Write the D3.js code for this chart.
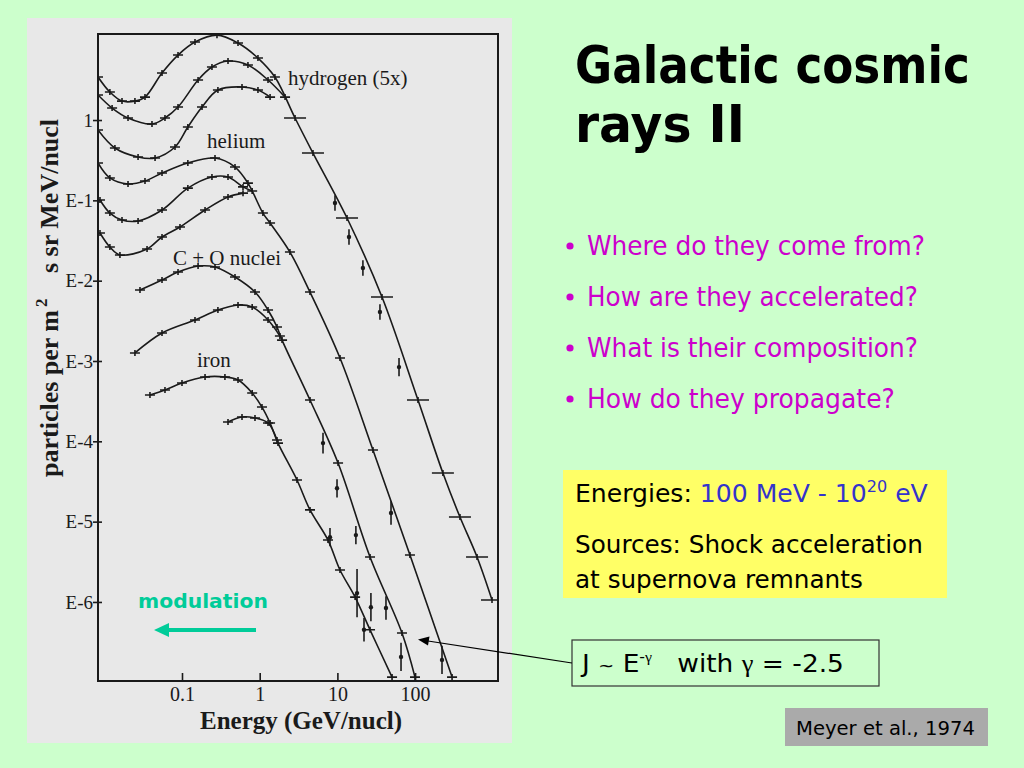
<!DOCTYPE html>
<html lang="en">
<head>
<meta charset="utf-8">
<title>Galactic cosmic rays II</title>
<script src="https://d3js.org/d3.v7.min.js"></script>
<style>
  body { margin: 0; background: #ccffcc; }
  svg { display: block; }
  .serif { font-family: "Liberation Serif", "DejaVu Serif", serif; }
  .sans { font-family: "DejaVu Sans", Verdana, sans-serif; }
</style>
</head>
<body>
<script>
// spectra: [energy GeV/nucl, flux]
var hydrogen1 = [[0.0083,3.43],[0.0118,2.23],[0.0169,1.72],[0.0248,1.72],[0.0334,1.93],[0.0553,3.85],[0.0889,6.44],[0.147,9.35],[0.282,11.4],[0.526,9.09],[0.95,5.91],[1.57,3.43],[2.85,1.06],[4.85,0.388],[13.3,0.0603],[37.5,0.00626],[109,3.27e-4],[228,4.03e-5],[378,1.14e-5],[627,3.63e-6],[977,1.06e-6]];
var hydrogen2 = [[0.0083,2.05],[0.0126,1.41],[0.0202,1.06],[0.0411,0.892],[0.0604,1.06],[0.0889,1.45],[0.161,3.15],[0.243,4.57],[0.391,5.42],[0.706,4.84],[1.28,3.15],[2.12,1.93]];
var hydrogen3 = [[0.0083,0.751],[0.0137,0.448],[0.0272,0.346],[0.045,0.336],[0.0813,0.461],[0.119,0.818],[0.181,1.45],[0.29,2.36],[0.592,2.58],[0.95,2.36],[1.36,1.93]];
var helium1 = [[0.0083,0.292],[0.0118,0.19],[0.0202,0.16],[0.0334,0.174],[0.0553,0.219],[0.119,0.292],[0.266,0.336],[0.481,0.26],[0.706,0.164],[1.1,0.0695],[1.36,0.0522],[2.45,0.0227],[4.44,0.00722],[10.8,0.00109],[28.7,7.8e-5],[85.9,3.85e-6],[299,1.16e-7]];
var helium2 = [[0.0088,0.101],[0.0118,0.0695],[0.0169,0.0569],[0.0272,0.0553],[0.0553,0.0758],[0.119,0.142],[0.243,0.195],[0.391,0.195],[0.61,0.147],[0.8,0.131]];
var helium3 = [[0.0088,0.0392],[0.0118,0.0262],[0.0159,0.0209],[0.0355,0.0248],[0.0553,0.035],[0.0942,0.0466],[0.198,0.0758],[0.391,0.11],[0.61,0.123]];
var co1 = [[0.0288,0.00765],[0.0553,0.0102],[0.0889,0.0128],[0.161,0.0152],[0.266,0.0148],[0.481,0.0111],[0.87,0.00722],[1.28,0.00431],[1.67,0.00265],[1.94,0.00182],[4.44,3.27e-4],[10.2,5.37e-5],[26.3,3.63e-6],[67.8,4.11e-7],[99.7,1.16e-7]];
var co2 = [[0.0248,0.00126],[0.0553,0.00223],[0.147,0.00324],[0.29,0.00431],[0.526,0.00498],[0.8,0.0047],[1.28,0.00324],[1.82,0.00205]];
var iron1 = [[0.0387,3.77e-4],[0.0604,4.35e-4],[0.1,5.32e-4],[0.198,6.32e-4],[0.357,6.32e-4],[0.526,5.8e-4],[0.8,4.0e-4],[1.07,2.67e-4],[1.36,1.69e-4],[1.72,9.5e-5],[3.02,3.3e-5],[4.44,1.4e-5],[7.57,5.9e-6],[10.8,2.5e-6],[16.9,1.15e-6],[26.3,4.5e-7],[50.5,1.16e-7]];
var iron2 = [[0.391,1.74e-4],[0.592,2.01e-4],[0.87,1.95e-4],[1.28,1.69e-4],[1.67,1.04e-4]];
// isolated points with vertical error bars: [energy, flux, error factor]
var errorPoints = [[9.31,0.0927,1.25],[14.1,0.035,1.25],[21.3,0.0144,1.25],[35.3,0.00407,1.25],[62.1,8.4e-4,1.3],[6.53,9.5e-5,1.35],[9.89,2.6e-5,1.3],[8.03,6.4e-6,1.3],[17.3,6.8e-6,1.3],[17.9,1.29e-6,2.0],[27.0,8.6e-7,1.5],[42.2,8.4e-7,1.4],[22.0,4.5e-7,1.4],[49.0,1.28e-5,1.4],[65.9,2.07e-7,1.5],[222,1.9e-7,1.5]];

var xTickValues = [0.1, 1, 10, 100];
var xTickLabels = ["0.1", "1", "10", "100"];
var yTickValues = [1, 1e-1, 1e-2, 1e-3, 1e-4, 1e-5, 1e-6];
var yTickLabels = ["1", "E-1", "E-2", "E-3", "E-4", "E-5", "E-6"];

var bullets = ["Where do they come from?", "How are they accelerated?", "What is their composition?", "How do they propagate?"];

var curves = [hydrogen1, hydrogen2, hydrogen3, helium1, helium2, helium3, co1, co2, iron1, iron2];

var w = 1024, h = 768;
var svg = d3.select("body").append("svg").attr("width", w).attr("height", h);

svg.append("rect").attr("width", w).attr("height", h).attr("fill", "#ccffcc");

// scanned figure background
svg.append("rect").attr("x", 27).attr("y", 18).attr("width", 485).attr("height", 725).attr("fill", "#e8e8e8");

var xScale = d3.scaleLog().domain([Math.pow(10, -2.081), Math.pow(10, 3.067)]).range([98, 498]);
var yScale = d3.scaleLog().domain([Math.pow(10, -6.984), Math.pow(10, 1.071)]).range([681, 34]);

svg.append("clipPath").attr("id", "plotclip")
  .append("rect").attr("x", 98).attr("y", 34).attr("width", 400).attr("height", 647);

var plot = svg.append("g").attr("clip-path", "url(#plotclip)");

var line = d3.line()
  .x(function(d){ return xScale(d[0]); })
  .y(function(d){ return yScale(d[1]); })
  .curve(d3.curveCatmullRom.alpha(0.5));

plot.selectAll("path.curve")
  .data(curves)
  .enter()
  .append("path")
  .attr("class", "curve")
  .attr("d", line)
  .attr("fill", "none")
  .attr("stroke", "#1a1a1a")
  .attr("stroke-width", 1.6);

// cross markers on the measured points (wide bars on the hydrogen tail)
var allPts = [];
curves.forEach(function(c, ci){
  c.forEach(function(p){ allPts.push({p: p, wide: ci === 0 && p[0] > 2}); });
});
plot.selectAll("path.mark")
  .data(allPts)
  .enter()
  .append("path")
  .attr("class", "mark")
  .attr("d", function(d){
    var px = xScale(d.p[0]), py = yScale(d.p[1]), hw = d.wide ? 11 : 5;
    return "M" + (px - hw) + "," + py + "H" + (px + hw) + "M" + px + "," + (py - 3) + "V" + (py + 3);
  })
  .attr("stroke", "#1a1a1a")
  .attr("stroke-width", 1.6);

var eg = plot.selectAll("g.err")
  .data(errorPoints)
  .enter()
  .append("g")
  .attr("class", "err");
eg.append("line")
  .attr("x1", function(d){ return xScale(d[0]); })
  .attr("x2", function(d){ return xScale(d[0]); })
  .attr("y1", function(d){ return yScale(d[1] / d[2]); })
  .attr("y2", function(d){ return yScale(d[1] * d[2]); })
  .attr("stroke", "#1a1a1a")
  .attr("stroke-width", 1.6);
eg.append("circle")
  .attr("cx", function(d){ return xScale(d[0]); })
  .attr("cy", function(d){ return yScale(d[1]); })
  .attr("r", 2.2)
  .attr("fill", "#1a1a1a");

// frame
svg.append("rect").attr("x", 98).attr("y", 34).attr("width", 400).attr("height", 647)
  .attr("fill", "none").attr("stroke", "#1a1a1a").attr("stroke-width", 2);

var yAxis = d3.axisLeft(yScale)
  .tickValues(yTickValues)
  .tickFormat(function(d, i){ return yTickLabels[i]; })
  .tickSize(5)
  .tickPadding(0);
var gy = svg.append("g").attr("transform", "translate(98,0)").call(yAxis);
gy.select(".domain").remove();
gy.selectAll(".tick line").attr("x1", 4).attr("stroke", "#1a1a1a").attr("stroke-width", 1.6);
gy.selectAll(".tick text").attr("class", "serif").attr("font-size", 19).attr("fill", "#1a1a1a");

var xAxis = d3.axisBottom(xScale)
  .tickValues(xTickValues)
  .tickFormat(function(d, i){ return xTickLabels[i]; })
  .tickSizeInner(-8)
  .tickSizeOuter(0)
  .tickPadding(6);
var gx = svg.append("g").attr("transform", "translate(0,681)").call(xAxis);
gx.select(".domain").remove();
gx.selectAll(".tick line").attr("stroke", "#1a1a1a").attr("stroke-width", 1.6);
gx.selectAll(".tick text").attr("class", "serif").attr("font-size", 20).attr("fill", "#1a1a1a");

// axis titles
svg.append("text").attr("class", "serif")
  .attr("x", 301).attr("y", 729)
  .attr("text-anchor", "middle")
  .attr("font-size", 25).attr("font-weight", "bold").attr("fill", "#1a1a1a")
  .text("Energy (GeV/nucl)");

var yl = svg.append("g").attr("transform", "translate(58,477) rotate(-90)")
  .attr("class", "serif").attr("font-weight", "bold").attr("fill", "#1a1a1a");
yl.append("text").attr("x", 0).attr("y", 0).attr("font-size", 26).text("particles per m");
yl.append("text").attr("x", 170).attr("y", -11).attr("font-size", 17).text("2");
yl.append("text").attr("x", 204).attr("y", 0).attr("font-size", 26).text("s sr MeV/nucl");

// curve labels
var labels = [
  {t: "hydrogen (5x)", x: 288, y: 85},
  {t: "helium", x: 207, y: 148},
  {t: "C + O nuclei", x: 173, y: 265},
  {t: "iron", x: 197, y: 367}
];
svg.selectAll("text.lab")
  .data(labels)
  .enter()
  .append("text")
  .attr("class", "lab serif")
  .attr("x", function(d){ return d.x; })
  .attr("y", function(d){ return d.y; })
  .attr("font-size", 21)
  .attr("fill", "#1a1a1a")
  .text(function(d){ return d.t; });

// squeeze a text horizontally to the width it has on the slide
function fit(t, target) {
  var bb = t.node().getBBox();
  var k = target / bb.width, x0 = bb.x;
  t.attr("transform", "translate(" + x0 + ",0) scale(" + k + ",1) translate(" + (-x0) + ",0)");
}

// modulation arrow
var mod = svg.append("text").attr("class", "sans")
  .attr("x", 138).attr("y", 608)
  .attr("font-size", 20).attr("font-weight", "bold").attr("fill", "#00cc99")
  .text("modulation");
fit(mod, 130);
svg.append("line").attr("x1", 256).attr("y1", 630).attr("x2", 166).attr("y2", 630)
  .attr("stroke", "#00cc99").attr("stroke-width", 4);
svg.append("path").attr("d", "M154,630 L169,623 L169,637 Z").attr("fill", "#00cc99");

// title
var t1 = svg.append("text").attr("class", "sans").attr("x", 575).attr("y", 83)
  .attr("font-size", 52).attr("font-weight", "bold").attr("fill", "#000").text("Galactic cosmic");
fit(t1, 395);
var t2 = svg.append("text").attr("class", "sans").attr("x", 575).attr("y", 142)
  .attr("font-size", 52).attr("font-weight", "bold").attr("fill", "#000").text("rays II");
fit(t2, 170);

// bullets
var bulletWidths = [338, 331, 331, 308];
bullets.forEach(function(b, i){
  var yy = 255 + i * 51;
  svg.append("circle").attr("cx", 570).attr("cy", yy - 9).attr("r", 3.6).attr("fill", "#cc00cc");
  var bt = svg.append("text").attr("class", "sans").attr("x", 587).attr("y", yy)
    .attr("font-size", 27).attr("fill", "#cc00cc").text(b);
  fit(bt, bulletWidths[i]);
});

// yellow box
svg.append("rect").attr("x", 563).attr("y", 470).attr("width", 384).attr("height", 128).attr("fill", "#ffff66");
var e1 = svg.append("text").attr("class", "sans").attr("x", 575).attr("y", 502).attr("font-size", 25);
e1.append("tspan").attr("fill", "#000").text("Energies: ");
e1.append("tspan").attr("fill", "#3333cc").text("100 MeV - 10");
e1.append("tspan").attr("fill", "#3333cc").attr("font-size", 16).attr("dy", -10).text("20");
e1.append("tspan").attr("fill", "#3333cc").attr("dy", 10).text(" eV");
fit(e1, 353);
var e2 = svg.append("text").attr("class", "sans").attr("x", 575).attr("y", 553).attr("font-size", 25)
  .attr("fill", "#000").text("Sources: Shock acceleration");
fit(e2, 348);
var e3 = svg.append("text").attr("class", "sans").attr("x", 575).attr("y", 588).attr("font-size", 25)
  .attr("fill", "#000").text("at supernova remnants");
fit(e3, 288);

// power law box and pointer
svg.append("rect").attr("x", 572).attr("y", 640).attr("width", 307).attr("height", 46)
  .attr("fill", "none").attr("stroke", "#333").attr("stroke-width", 1.2);
svg.append("line").attr("x1", 572).attr("y1", 663).attr("x2", 428).attr("y2", 641)
  .attr("stroke", "#000").attr("stroke-width", 1.2);
svg.append("path").attr("d", "M418,639.5 L429.5,636.5 L428,645.5 Z").attr("fill", "#000");
var jt = svg.append("text").attr("class", "sans").attr("x", 582).attr("y", 672)
  .attr("font-size", 25).attr("fill", "#000").style("white-space", "pre");
jt.append("tspan").text("J ");
jt.append("tspan").attr("font-size", 18).text("~");
jt.append("tspan").text(" E");
jt.append("tspan").attr("font-size", 15).attr("dy", -10).text("-");
jt.append("tspan").attr("font-size", 15).attr("class", "serif").text("\u03b3");
jt.append("tspan").attr("dy", 10).text("   with ");
jt.append("tspan").attr("class", "serif").text("\u03b3");
jt.append("tspan").text(" = -2.5");
fit(jt, 264);

// citation
svg.append("rect").attr("x", 785).attr("y", 708).attr("width", 203).attr("height", 38).attr("fill", "#aaaaaa");
var ct = svg.append("text").attr("class", "sans").attr("x", 796).attr("y", 735)
  .attr("font-size", 20).attr("fill", "#000").text("Meyer et al., 1974");
fit(ct, 179);
</script>
</body>
</html>
